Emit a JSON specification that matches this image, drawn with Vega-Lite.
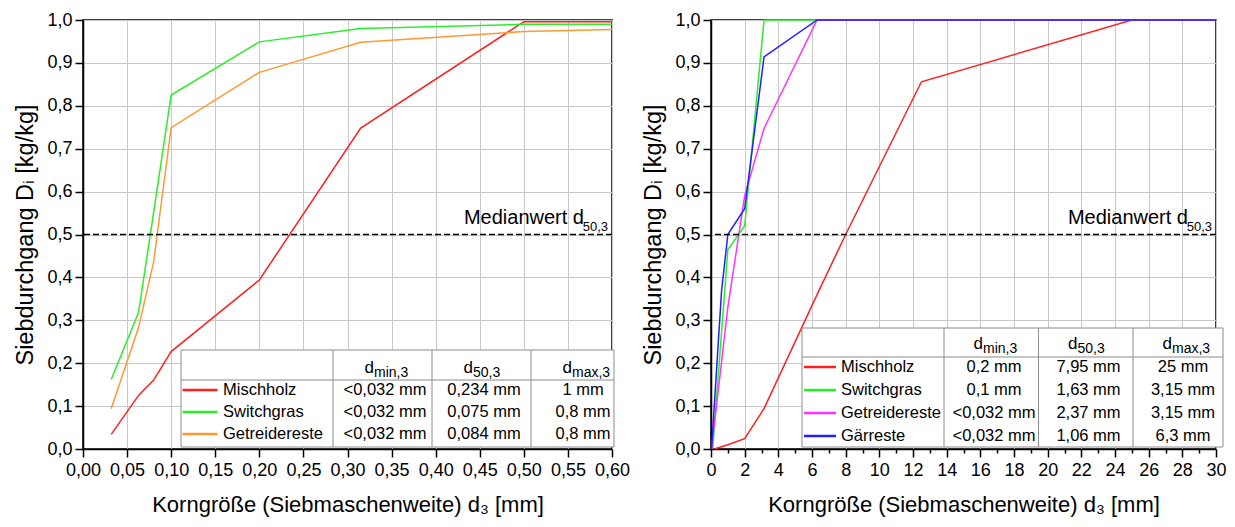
{
  "$schema": "https://vega.github.io/schema/vega-lite/v6.json",
  "background": "white",
  "padding": {"left": 13, "top": 10, "right": 5, "bottom": 5},
  "config": {
    "font": "Liberation Sans",
    "view": {"stroke": "black", "strokeWidth": 1.5},
    "axis": {
      "domainColor": "black", "domainWidth": 1.5,
      "tickColor": "black", "tickWidth": 1.5,
      "labelFont": "Liberation Sans", "labelFontSize": 18, "labelColor": "black",
      "titleFont": "Liberation Sans", "titleFontSize": 22, "titleFontWeight": "normal", "titleColor": "black",
      "gridColor": "#c8c8c8", "gridWidth": 1,
      "labelFlush": false, "labelOverlap": false
    },
    "text": {"font": "Liberation Sans", "color": "black"}
  },
  "datasets": {
    "left": [
      {"series": "Mischholz", "x": 0.032, "y": 0.034},
      {"series": "Mischholz", "x": 0.063, "y": 0.125},
      {"series": "Mischholz", "x": 0.08, "y": 0.16},
      {"series": "Mischholz", "x": 0.1, "y": 0.227},
      {"series": "Mischholz", "x": 0.2, "y": 0.394},
      {"series": "Mischholz", "x": 0.315, "y": 0.748},
      {"series": "Mischholz", "x": 0.5, "y": 0.996},
      {"series": "Mischholz", "x": 0.6, "y": 0.996},
      {"series": "Switchgras", "x": 0.032, "y": 0.162},
      {"series": "Switchgras", "x": 0.063, "y": 0.318},
      {"series": "Switchgras", "x": 0.08, "y": 0.55},
      {"series": "Switchgras", "x": 0.1, "y": 0.825},
      {"series": "Switchgras", "x": 0.2, "y": 0.949},
      {"series": "Switchgras", "x": 0.315, "y": 0.98},
      {"series": "Switchgras", "x": 0.5, "y": 0.99},
      {"series": "Switchgras", "x": 0.6, "y": 0.99},
      {"series": "Getreidereste", "x": 0.032, "y": 0.094},
      {"series": "Getreidereste", "x": 0.063, "y": 0.283},
      {"series": "Getreidereste", "x": 0.08, "y": 0.435},
      {"series": "Getreidereste", "x": 0.1, "y": 0.749},
      {"series": "Getreidereste", "x": 0.2, "y": 0.878},
      {"series": "Getreidereste", "x": 0.315, "y": 0.948},
      {"series": "Getreidereste", "x": 0.5, "y": 0.973},
      {"series": "Getreidereste", "x": 0.6, "y": 0.978}
    ],
    "right": [
      {"series": "Mischholz", "x": 0.2, "y": 0},
      {"series": "Mischholz", "x": 1, "y": 0.01},
      {"series": "Mischholz", "x": 2, "y": 0.024},
      {"series": "Mischholz", "x": 3.15, "y": 0.094},
      {"series": "Mischholz", "x": 6.3, "y": 0.36},
      {"series": "Mischholz", "x": 8, "y": 0.5},
      {"series": "Mischholz", "x": 12.5, "y": 0.856},
      {"series": "Mischholz", "x": 25, "y": 1},
      {"series": "Mischholz", "x": 30, "y": 1},
      {"series": "Switchgras", "x": 0.1, "y": 0},
      {"series": "Switchgras", "x": 1, "y": 0.465},
      {"series": "Switchgras", "x": 2, "y": 0.52},
      {"series": "Switchgras", "x": 3.15, "y": 1},
      {"series": "Switchgras", "x": 30, "y": 1},
      {"series": "Getreidereste", "x": 0.032, "y": 0},
      {"series": "Getreidereste", "x": 1, "y": 0.33},
      {"series": "Getreidereste", "x": 2, "y": 0.59},
      {"series": "Getreidereste", "x": 3.15, "y": 0.747},
      {"series": "Getreidereste", "x": 6.3, "y": 1},
      {"series": "Getreidereste", "x": 30, "y": 1},
      {"series": "Gärreste", "x": 0.032, "y": 0},
      {"series": "Gärreste", "x": 0.63, "y": 0.37},
      {"series": "Gärreste", "x": 1, "y": 0.5},
      {"series": "Gärreste", "x": 2, "y": 0.56},
      {"series": "Gärreste", "x": 3.15, "y": 0.914},
      {"series": "Gärreste", "x": 6.3, "y": 1},
      {"series": "Gärreste", "x": 30, "y": 1}
    ],
    "leftTable": [
      {"series": "Mischholz", "dmin": "<0,032 mm", "d50": "0,234 mm", "dmax": "1 mm"},
      {"series": "Switchgras", "dmin": "<0,032 mm", "d50": "0,075 mm", "dmax": "0,8 mm"},
      {"series": "Getreidereste", "dmin": "<0,032 mm", "d50": "0,084 mm", "dmax": "0,8 mm"}
    ],
    "rightTable": [
      {"series": "Mischholz", "dmin": "0,2 mm", "d50": "7,95 mm", "dmax": "25 mm"},
      {"series": "Switchgras", "dmin": "0,1 mm", "d50": "1,63 mm", "dmax": "3,15 mm"},
      {"series": "Getreidereste", "dmin": "<0,032 mm", "d50": "2,37 mm", "dmax": "3,15 mm"},
      {"series": "Gärreste", "dmin": "<0,032 mm", "d50": "1,06 mm", "dmax": "6,3 mm"}
    ],
    "headers": [
      {"col": "dmin", "main": "d", "sub": "min,3"},
      {"col": "d50", "main": "d", "sub": "50,3"},
      {"col": "dmax", "main": "d", "sub": "max,3"}
    ],
    "median": [
      {"main": "Medianwert d", "sub": "50,3"}
    ]
  },
  "spacing": 99,
  "bounds": "flush",
  "resolve": {"scale": {"color": "independent"}},
  "hconcat": [
    {
      "width": 529,
      "height": 429,
      "layer": [
        {
          "layer": [
            {
              "data": {"name": "left"},
              "mark": {"type": "line", "strokeWidth": 1.5},
              "encoding": {
                "x": {
                  "field": "x", "type": "quantitative",
                  "scale": {"domain": [0, 0.6], "nice": false, "zero": false},
                  "axis": {
                    "values": [0, 0.025, 0.05, 0.075, 0.1, 0.125, 0.15, 0.175, 0.2, 0.225, 0.25, 0.275, 0.3, 0.325, 0.35, 0.375, 0.4, 0.425, 0.45, 0.475, 0.5, 0.525, 0.55, 0.575, 0.6],
                    "labelExpr": "abs(datum.value*20-round(datum.value*20))<0.001 ? replace(format(datum.value,'.2f'),'.',',') : ''",
                    "gridOpacity": {"condition": {"test": "abs(datum.value*20-round(datum.value*20))<0.001", "value": 1}, "value": 0},
                    "tickSize": {"condition": {"test": "abs(datum.value*20-round(datum.value*20))<0.001", "value": 8}, "value": 4},
                    "labelPadding": 4,
                    "labelOverlap": false,
                    "title": "Korngröße (Siebmaschenweite) d₃ [mm]",
                    "titlePadding": 15
                  }
                },
                "y": {
                  "field": "y", "type": "quantitative",
                  "scale": {"domain": [0, 1], "nice": false},
                  "axis": {
                    "values": [0, 0.05, 0.1, 0.15, 0.2, 0.25, 0.3, 0.35, 0.4, 0.45, 0.5, 0.55, 0.6, 0.65, 0.7, 0.75, 0.8, 0.85, 0.9, 0.95, 1],
                    "labelExpr": "abs(datum.value*10-round(datum.value*10))<0.001 ? replace(format(datum.value,'.1f'),'.',',') : ''",
                    "gridOpacity": {"condition": {"test": "abs(datum.value*10-round(datum.value*10))<0.001", "value": 1}, "value": 0},
                    "tickSize": {"condition": {"test": "abs(datum.value*10-round(datum.value*10))<0.001", "value": 8}, "value": 4},
                    "labelPadding": 3,
                    "labelOverlap": false,
                    "title": "Siebdurchgang Dᵢ [kg/kg]",
                    "titleFontSize": 23.5,
                    "titlePadding": 9
                  }
                },
                "color": {
                  "field": "series", "type": "nominal",
                  "scale": {"domain": ["Mischholz", "Switchgras", "Getreidereste"], "range": ["#ff2020", "#2bee2b", "#ff9933"]},
                  "legend": null
                }
              }
            },
            {
              "data": {"name": "median"},
              "mark": {"type": "rule", "strokeDash": [6, 3], "strokeWidth": 1.5, "color": "black"},
              "encoding": {"y": {"datum": 0.5, "type": "quantitative"}}
            },
            {
              "data": {"name": "median"},
              "mark": {"type": "text", "align": "right", "baseline": "alphabetic", "fontSize": 20, "dx": -28, "dy": -11},
              "encoding": {"x": {"datum": 0.6, "type": "quantitative"}, "y": {"datum": 0.5, "type": "quantitative"}, "text": {"field": "main"}}
            },
            {
              "data": {"name": "median"},
              "mark": {"type": "text", "align": "right", "baseline": "alphabetic", "fontSize": 13, "dx": -4, "dy": -4},
              "encoding": {"x": {"datum": 0.6, "type": "quantitative"}, "y": {"datum": 0.5, "type": "quantitative"}, "text": {"field": "sub"}}
            }
          ]
        },
        {
          "layer": [
            {
              "data": {"values": [{"box": "Tabelle"}]},
              "mark": {"type": "rect", "fill": "white", "stroke": "#8c8c8c", "strokeWidth": 1, "xOffset": -204, "x2Offset": 31, "yOffset": -18, "y2Offset": 13},
              "encoding": {
                "x": {"datum": "dmin", "type": "nominal", "scale": {"type": "point", "domain": ["dmin", "d50", "dmax"], "range": [302, 500], "padding": 0}, "axis": null},
                "x2": {"datum": "dmax"},
                "y": {"datum": "header", "type": "nominal", "scale": {"type": "point", "domain": ["header", "Mischholz", "Switchgras", "Getreidereste"], "range": [348, 414], "padding": 0}, "axis": null},
                "y2": {"datum": "Getreidereste"}
              }
            },
            {
              "data": {"values": [{"box": "Tabelle"}]},
              "mark": {"type": "rule", "stroke": "#8c8c8c", "strokeWidth": 1, "xOffset": -204, "x2Offset": 31, "yOffset": 12},
              "encoding": {
                "x": {"datum": "dmin", "type": "nominal", "axis": null},
                "x2": {"datum": "dmax"},
                "y": {"datum": "header", "type": "nominal", "axis": null}
              }
            },
            {
              "data": {"name": "headers"},
              "mark": {"type": "rule", "stroke": "#8c8c8c", "strokeWidth": 1, "xOffset": -52, "yOffset": -18, "y2Offset": 13},
              "encoding": {
                "x": {"field": "col", "type": "nominal", "axis": null},
                "y": {"datum": "header", "type": "nominal", "axis": null},
                "y2": {"datum": "Getreidereste"}
              }
            },
            {
              "data": {"name": "leftTable"},
              "mark": {"type": "point", "shape": "stroke", "size": 1225, "strokeWidth": 2.5, "filled": false, "opacity": 1, "xOffset": -185},
              "encoding": {
                "x": {"datum": "dmin", "type": "nominal", "axis": null},
                "y": {"field": "series", "type": "nominal", "axis": null},
                "color": {"field": "series", "type": "nominal", "legend": null}
              }
            },
            {
              "data": {"name": "leftTable"},
              "mark": {"type": "text", "align": "left", "baseline": "middle", "fontSize": 16.5, "xOffset": -162},
              "encoding": {
                "x": {"datum": "dmin", "type": "nominal", "axis": null},
                "y": {"field": "series", "type": "nominal", "axis": null},
                "text": {"field": "series"}
              }
            },
            {
              "data": {"name": "leftTable"},
              "transform": [{"fold": ["dmin", "d50", "dmax"], "as": ["col", "val"]}],
              "mark": {"type": "text", "align": "center", "baseline": "middle", "fontSize": 16.5},
              "encoding": {
                "x": {"field": "col", "type": "nominal", "axis": null},
                "y": {"field": "series", "type": "nominal", "axis": null},
                "text": {"field": "val"}
              }
            },
            {
              "data": {"name": "headers"},
              "mark": {"type": "text", "align": "right", "baseline": "middle", "fontSize": 17, "dx": -11},
              "encoding": {
                "x": {"field": "col", "type": "nominal", "axis": null},
                "y": {"datum": "header", "type": "nominal", "axis": null},
                "text": {"field": "main"}
              }
            },
            {
              "data": {"name": "headers"},
              "mark": {"type": "text", "align": "left", "baseline": "middle", "fontSize": 14, "dx": -11, "dy": 5},
              "encoding": {
                "x": {"field": "col", "type": "nominal", "axis": null},
                "y": {"datum": "header", "type": "nominal", "axis": null},
                "text": {"field": "sub"}
              }
            }
          ]
        }
      ],
      "resolve": {"scale": {"x": "independent", "y": "independent"}}
    },
    {
      "width": 505,
      "height": 429,
      "layer": [
        {
          "layer": [
            {
              "data": {"name": "right"},
              "mark": {"type": "line", "strokeWidth": 1.5},
              "encoding": {
                "x": {
                  "field": "x", "type": "quantitative",
                  "scale": {"domain": [0, 30], "nice": false, "zero": false},
                  "axis": {
                    "orient": "bottom",
                    "values": [0, 2, 4, 6, 8, 10, 12, 14, 16, 18, 20, 22, 24, 26, 28, 30],
                    "tickSize": 8,
                    "labelPadding": 4,
                    "labelOverlap": false,
                    "title": "Korngröße (Siebmaschenweite) d₃ [mm]",
                    "titlePadding": 15
                  }
                },
                "y": {
                  "field": "y", "type": "quantitative",
                  "scale": {"domain": [0, 1], "nice": false},
                  "axis": {
                    "values": [0, 0.05, 0.1, 0.15, 0.2, 0.25, 0.3, 0.35, 0.4, 0.45, 0.5, 0.55, 0.6, 0.65, 0.7, 0.75, 0.8, 0.85, 0.9, 0.95, 1],
                    "labelExpr": "abs(datum.value*10-round(datum.value*10))<0.001 ? replace(format(datum.value,'.1f'),'.',',') : ''",
                    "gridOpacity": {"condition": {"test": "abs(datum.value*10-round(datum.value*10))<0.001", "value": 1}, "value": 0},
                    "tickSize": {"condition": {"test": "abs(datum.value*10-round(datum.value*10))<0.001", "value": 8}, "value": 4},
                    "labelPadding": 3,
                    "labelOverlap": false,
                    "title": "Siebdurchgang Dᵢ [kg/kg]",
                    "titleFontSize": 23.5,
                    "titlePadding": 9
                  }
                },
                "color": {
                  "field": "series", "type": "nominal",
                  "scale": {"domain": ["Mischholz", "Switchgras", "Getreidereste", "Gärreste"], "range": ["#ff2020", "#2bee2b", "#ff33ff", "#2020ff"]},
                  "legend": null
                }
              }
            },
            {
              "data": {"name": "median"},
              "mark": {"type": "rule", "strokeDash": [6, 3], "strokeWidth": 1.5, "color": "black"},
              "encoding": {"y": {"datum": 0.5, "type": "quantitative"}}
            },
            {
              "data": {"name": "median"},
              "mark": {"type": "text", "align": "right", "baseline": "alphabetic", "fontSize": 20, "dx": -28, "dy": -11},
              "encoding": {
                "x": {
                  "datum": 30, "type": "quantitative",
                  "axis": {
                    "orient": "bottom",
                    "values": [1, 3, 5, 7, 9, 11, 13, 15, 17, 19, 21, 23, 25, 27, 29],
                    "tickSize": 4, "labels": false, "grid": false, "domain": false, "title": null
                  }
                },
                "y": {"datum": 0.5, "type": "quantitative"},
                "text": {"field": "main"}
              }
            },
            {
              "data": {"name": "median"},
              "mark": {"type": "text", "align": "right", "baseline": "alphabetic", "fontSize": 13, "dx": -4, "dy": -4},
              "encoding": {"y": {"datum": 0.5, "type": "quantitative"}, "text": {"field": "sub"}, "x": {"datum": 30, "type": "quantitative", "axis": null}}
            }
          ],
          "resolve": {"axis": {"x": "independent"}}
        },
        {
          "layer": [
            {
              "data": {"values": [{"box": "Tabelle"}]},
              "mark": {"type": "rect", "fill": "white", "stroke": "#8c8c8c", "strokeWidth": 1, "xOffset": -192, "x2Offset": 40, "yOffset": -16, "y2Offset": 11},
              "encoding": {
                "x": {"datum": "dmin", "type": "nominal", "scale": {"type": "point", "domain": ["dmin", "d50", "dmax"], "range": [283, 472], "padding": 0}, "axis": null},
                "x2": {"datum": "dmax"},
                "y": {"datum": "header", "type": "nominal", "scale": {"type": "point", "domain": ["header", "Mischholz", "Switchgras", "Getreidereste", "Gärreste"], "range": [324, 416], "padding": 0}, "axis": null},
                "y2": {"datum": "Gärreste"}
              }
            },
            {
              "data": {"values": [{"box": "Tabelle"}]},
              "mark": {"type": "rule", "stroke": "#8c8c8c", "strokeWidth": 1, "xOffset": -192, "x2Offset": 40, "yOffset": 13},
              "encoding": {
                "x": {"datum": "dmin", "type": "nominal", "axis": null},
                "x2": {"datum": "dmax"},
                "y": {"datum": "header", "type": "nominal", "axis": null}
              }
            },
            {
              "data": {"name": "headers"},
              "mark": {"type": "rule", "stroke": "#8c8c8c", "strokeWidth": 1, "xOffset": -50, "yOffset": -16, "y2Offset": 11},
              "encoding": {
                "x": {"field": "col", "type": "nominal", "axis": null},
                "y": {"datum": "header", "type": "nominal", "axis": null},
                "y2": {"datum": "Gärreste"}
              }
            },
            {
              "data": {"name": "rightTable"},
              "mark": {"type": "point", "shape": "stroke", "size": 1024, "strokeWidth": 2.5, "filled": false, "opacity": 1, "xOffset": -174},
              "encoding": {
                "x": {"datum": "dmin", "type": "nominal", "axis": null},
                "y": {"field": "series", "type": "nominal", "axis": null},
                "color": {"field": "series", "type": "nominal", "legend": null}
              }
            },
            {
              "data": {"name": "rightTable"},
              "mark": {"type": "text", "align": "left", "baseline": "middle", "fontSize": 16.5, "xOffset": -153},
              "encoding": {
                "x": {"datum": "dmin", "type": "nominal", "axis": null},
                "y": {"field": "series", "type": "nominal", "axis": null},
                "text": {"field": "series"}
              }
            },
            {
              "data": {"name": "rightTable"},
              "transform": [{"fold": ["dmin", "d50", "dmax"], "as": ["col", "val"]}],
              "mark": {"type": "text", "align": "center", "baseline": "middle", "fontSize": 16.5},
              "encoding": {
                "x": {"field": "col", "type": "nominal", "axis": null},
                "y": {"field": "series", "type": "nominal", "axis": null},
                "text": {"field": "val"}
              }
            },
            {
              "data": {"name": "headers"},
              "mark": {"type": "text", "align": "right", "baseline": "middle", "fontSize": 17, "dx": -11},
              "encoding": {
                "x": {"field": "col", "type": "nominal", "axis": null},
                "y": {"datum": "header", "type": "nominal", "axis": null},
                "text": {"field": "main"}
              }
            },
            {
              "data": {"name": "headers"},
              "mark": {"type": "text", "align": "left", "baseline": "middle", "fontSize": 14, "dx": -11, "dy": 5},
              "encoding": {
                "x": {"field": "col", "type": "nominal", "axis": null},
                "y": {"datum": "header", "type": "nominal", "axis": null},
                "text": {"field": "sub"}
              }
            }
          ]
        }
      ],
      "resolve": {"scale": {"x": "independent", "y": "independent"}}
    }
  ]
}
